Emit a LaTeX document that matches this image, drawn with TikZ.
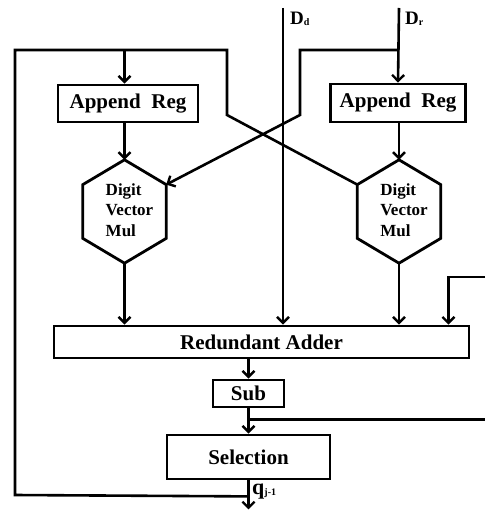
\documentclass[tikz,border=0pt]{standalone}
\usepackage{fontspec}
\setmainfont{Liberation Serif}
\usetikzlibrary{arrows.meta,positioning,calc}
\tikzset{
  wire/.style={line width=2.6pt},
  arr/.style={wire,-{Straight Barb[length=6pt,width=12pt,line width=2.4pt]}},
  unit/.style={draw,line width=2.8pt,inner sep=0pt,align=center,
    font=\fontsize{21}{25}\selectfont\bfseries},
  hexbox/.style={inner sep=0pt,minimum width=83pt,minimum height=103pt,
    font=\fontsize{17}{20.5}\selectfont\bfseries},
  lab/.style={inner sep=0pt,font=\fontsize{19}{21}\selectfont\bfseries}
}
% three-line label of a multiplier, set a little right of centre
\newcommand{\mullabel}{\hspace*{10pt}\begin{tabular}{@{}l@{}}Digit\\Vector\\Mul\end{tabular}}
% hexagon outline round a hexbox node, with its side corners as coordinates
\newcommand{\hexof}[1]{%
  \coordinate (#1-ne) at ($(#1.north east)!.24!(#1.south east)$);
  \coordinate (#1-se) at ($(#1.south east)!.24!(#1.north east)$);
  \coordinate (#1-sw) at ($(#1.south west)!.24!(#1.north west)$);
  \coordinate (#1-nw) at ($(#1.north west)!.24!(#1.south west)$);
  \draw[line width=2.8pt,line join=miter] (#1.north) -- (#1-ne) -- (#1-se) -- (#1.south)
    -- (#1-sw) -- (#1-nw) -- cycle;}

\begin{document}
\begin{tikzpicture}[x=1pt,y=-1pt]
  \useasboundingbox (0,0) rectangle (485,510);
  % registers and multipliers
  \node[unit,minimum width=140pt,minimum height=37pt] (regL) at (128,103.5) {Append\ \ Reg};
  \node[unit,minimum width=135pt,minimum height=38pt] (regR) at (398,103) {Append\ \ Reg};
  \node[hexbox] (mulL) at (124.5,211.5) {\mullabel};
  \node[hexbox] (mulR) at (399,211.5) {\mullabel};
  \hexof{mulL}
  \hexof{mulR}
  % adder, sub and selection
  \node[unit,minimum width=415pt,minimum height=32pt] (adder) at (261.5,342) {Redundant Adder};
  \node[unit,minimum width=71pt,minimum height=27pt] (sub) at (248.5,393.5) {Sub};
  \node[unit,minimum width=163pt,minimum height=44pt] (sel) at (248.5,457) {Selection};

  % inputs
  \coordinate (dd) at (283,8);
  \coordinate (dr) at (399,8);
  \node[lab,anchor=north west] (ddlab) at (290,12) {D\raisebox{-1pt}{\fontsize{10}{10}\selectfont d}};
  \node[lab,anchor=north west] (drlab) at (405,12) {D\raisebox{-1pt}{\fontsize{10}{10}\selectfont r}};
  \draw[arr] (dd) -- (dd |- adder.north);
  \draw[arr] (dr) -- (regR.north);
  \coordinate (drsplit) at (399,50);
  \draw[arr] (drsplit) -- (300,50) -- (300,115) -- (mulL-ne);

  % quotient digit fed back
  \coordinate (qloop) at ($(sel.south)+(0,16)$);
  \draw[arr] (sel.south) -- ++(0,29);
  \node[lab,anchor=west,font=\fontsize{22}{22}\selectfont\bfseries] (qlab) at (252,492)
    {q\raisebox{-1pt}{\fontsize{10}{10}\selectfont j-1}};
  \draw[wire] (qloop) -- (15,495) -- (15,50) -- (227,50) -- (227,115) -- (mulR-nw);
  \draw[arr] (mulL.north |- 0,50) -- (mulL.north |- regL.north);

  % register to multiplier to adder
  \draw[arr] (mulL.north |- regL.south) -- (mulL.north);
  \draw[arr] (regR.south -| mulR.north) -- (mulR.north);
  \draw[arr] (mulL.south) -- (mulL.south |- adder.north);
  \draw[arr] (mulR.south) -- (mulR.south |- adder.north);

  % residual loop on the right
  \coordinate (fbin) at (485,277);
  \draw[arr] (fbin) -| ([xshift=-22pt]adder.north east);
  \draw[arr] (adder.south -| sub.north) -- (sub.north);
  \draw[arr] (sub.south) -- (sel.north);
  \coordinate (tap) at ($(sub.south)+(0,11)$);
  \draw[wire] (tap) -- (tap -| fbin);
\end{tikzpicture}
\end{document}
